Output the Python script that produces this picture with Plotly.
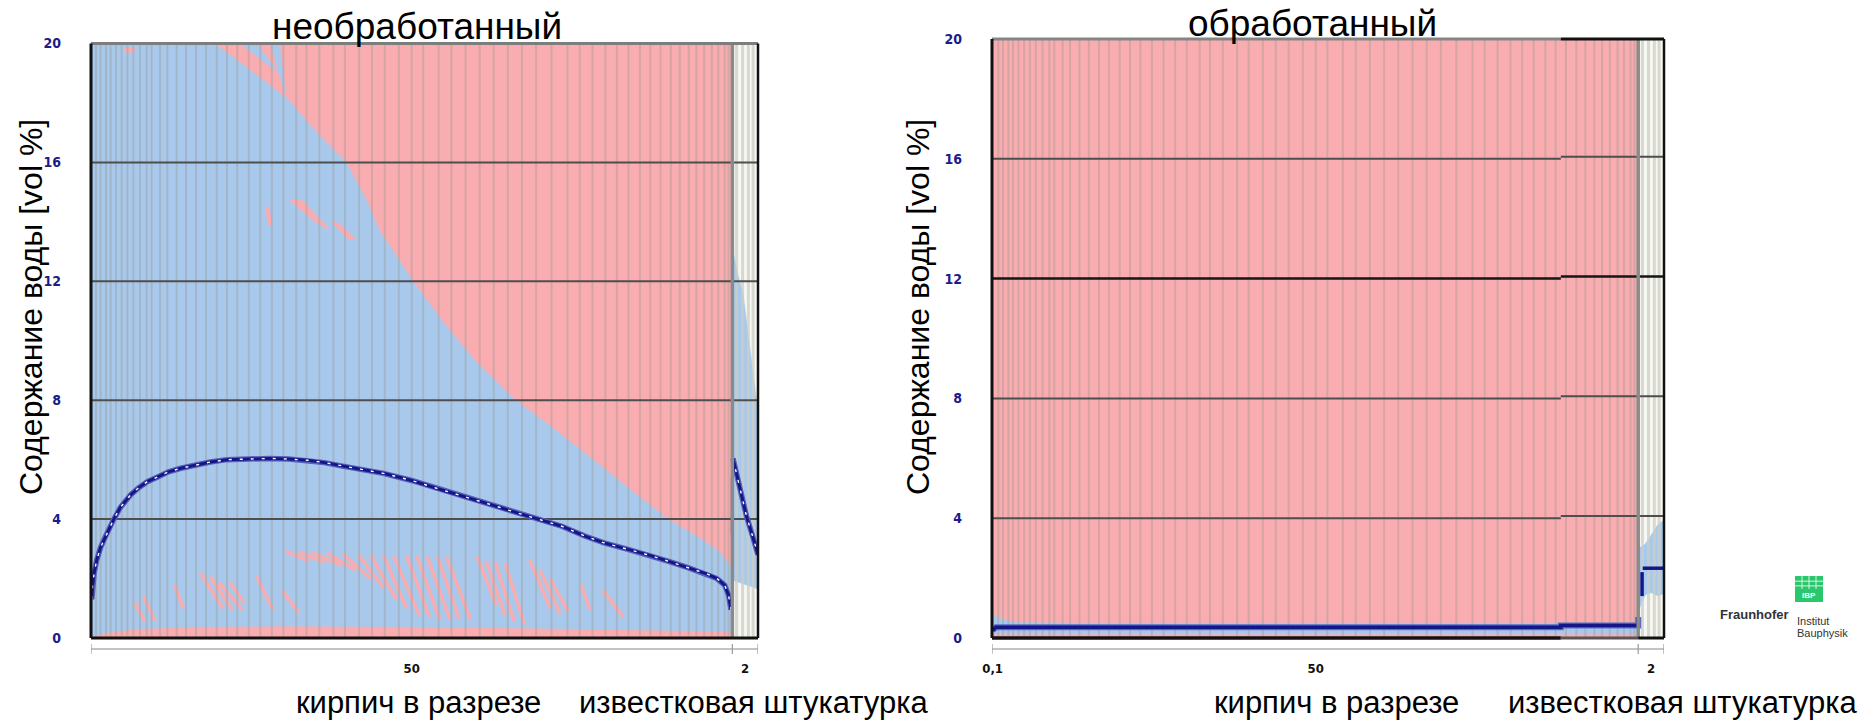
import plotly.graph_objects as go

FIG_W, FIG_H = 1876, 720

# ---------------- wall build-up, cm ----------------
brick_thk = 50.0
plaster_thk = 2.0
treated_thk = 0.1

tick_text_untreated = ["50", "2"]
tick_text_treated = ["0,1", "50", "2"]
y_tick_vals = [0, 4, 8, 12, 16, 20]
y_tick_text = ["0", "4", "8", "12", "16", "20"]
grid_levels = [4, 8, 12, 16]

# element boundaries of the numerical grid, cm from the inner face of the layer
brick_elements = [0.39, 0.75, 1.17, 1.53, 1.95, 2.39, 2.84, 3.3, 3.82, 4.34, 4.73,
                  5.38, 5.95, 6.68, 7.41, 8.19, 8.97, 9.8, 10.6, 11.4, 12.3, 13.2,
                  14.1, 15.0, 16.0, 16.8, 17.8, 18.9, 19.8, 20.9, 21.9, 22.9, 24.0,
                  25.0, 25.9, 27.1, 28.1, 29.2, 30.3, 31.4, 32.5, 33.6, 34.7, 35.9,
                  37.15, 38.1, 39.1, 40.1, 41.0, 41.9, 42.8, 43.6, 44.4, 45.2, 45.9,
                  46.6, 47.2, 47.8, 48.4, 48.9, 49.4, 49.7]
plaster_elements = [0.33, 0.8, 1.25, 1.62]

# ---------------- untreated wall (water content, vol %) ----------------
# envelope of all time steps in the brick
u_env_top_x = [0, 9.6, 11.5, 13.5, 15.4, 17.6, 19.9, 21.4, 22.5, 25.1, 27.5, 30.0,
               33.1, 35.9, 39.3, 42.3, 45.0, 47.5, 49.0, 50.0]
u_env_top_v = [20, 20, 19.4, 18.75, 18.1, 17.0, 16.0, 14.8, 13.7, 12.0, 10.6, 9.3,
               8.0, 7.1, 5.95, 4.9, 4.0, 3.35, 2.9, 2.35]
u_env_bot_x = [0, 0.3, 1.5, 3.4, 8, 15, 25, 35, 42, 50]
u_env_bot_v = [0, 0.08, 0.2, 0.3, 0.38, 0.4, 0.38, 0.33, 0.28, 0.22]
# envelope in the lime plaster
u_pl_top_x = [50.0, 50.44, 50.83, 51.09, 51.35, 51.66, 51.87, 52.0]
u_pl_top_v = [13.1, 12.2, 11.6, 10.7, 9.75, 8.8, 7.9, 7.6]
u_pl_bot_x = [50.0, 51.0, 52.0]
u_pl_bot_v = [1.95, 1.8, 1.65]

# strips never reached by the envelope
u_gaps = [
    ([15.4, 16.5, 18.6, 17.6], [14.75, 14.72, 13.75, 13.95]),
    ([18.7, 19.3, 20.7, 20.1], [14.0, 13.95, 13.4, 13.4]),
    ([13.6, 13.9, 14.1, 13.8], [14.5, 14.5, 13.9, 13.9]),
    ([2.6, 3.4, 3.3, 2.7], [19.85, 19.85, 19.7, 19.7]),
]
u_wet_strips = [
    ([11.6, 12.9, 14.7], [20, 20, 19.0]),
    ([14.0, 14.7, 15.2], [20, 20, 18.2]),
]
streak_x0 = [15.2, 16.2, 17.2, 18.4, 19.6, 20.8, 21.8, 22.8, 23.6, 24.6, 25.4, 26.2,
             27.0, 27.7, 30.1, 30.8, 31.5, 32.3, 34.2, 35.0, 35.8, 8.5, 9.3, 10.0,
             10.8, 3.4, 4.1, 12.9, 14.9, 38.2, 39.9, 6.5]
streak_v0 = [2.91, 2.9, 2.88, 2.86, 2.84, 2.82, 2.8, 2.78, 2.77, 2.76, 2.75, 2.74,
             2.74, 2.74, 2.74, 2.6, 2.55, 2.5, 2.63, 2.3, 2.0, 2.2, 2.07, 1.85,
             1.9, 1.2, 1.4, 2.07, 1.6, 1.8, 1.6, 1.8]
streak_x1 = [17.0, 18.2, 19.5, 20.6, 21.8, 22.8, 23.8, 24.6, 25.6, 26.4, 27.2, 28.0,
             28.7, 29.6, 31.6, 32.3, 33.0, 33.8, 35.8, 36.6, 37.2, 10.3, 11.0, 11.8,
             11.9, 4.2, 5.0, 14.2, 16.2, 38.9, 41.5, 7.2]
streak_v1 = [2.6, 2.55, 2.45, 2.3, 2.0, 1.7, 1.3, 1.0, 0.75, 0.7, 0.62, 0.62,
             0.65, 0.62, 1.1, 0.75, 0.55, 0.45, 1.0, 0.8, 0.9, 1.0, 0.95, 0.95,
             1.2, 0.55, 0.56, 0.95, 0.84, 0.95, 0.7, 1.0]

# current profile
u_line_x = [0.06, 0.12, 0.25, 0.45, 0.75, 1.12, 1.46, 1.77, 2.3, 3.08, 3.7, 4.39,
            5.2, 6.04, 7.0, 8.0, 9.3, 10.6, 12.2, 13.9, 15.4, 16.9, 18.2, 19.5,
            21.0, 22.8, 25.0, 27.0, 29.0, 31.3, 33.3, 35.3, 36.7, 38.5, 40.0, 41.8,
            43.5, 45.1, 46.6, 48.0, 48.8, 49.4, 49.7, 49.9]
u_line_v = [1.3, 1.75, 2.2, 2.63, 3.05, 3.41, 3.75, 3.99, 4.4, 4.81, 5.05, 5.26,
            5.42, 5.59, 5.71, 5.81, 5.92, 6.0, 6.03, 6.04, 6.02, 5.98, 5.9, 5.79,
            5.68, 5.54, 5.3, 5.03, 4.78, 4.47, 4.2, 3.95, 3.76, 3.43, 3.2, 2.99,
            2.79, 2.57, 2.36, 2.16, 2.0, 1.78, 1.45, 0.95]
u_pl_line_x = [50.05, 50.5, 51.1, 51.6, 52.0]
u_pl_line_v = [6.04, 5.2, 4.1, 3.4, 2.8]
u_edge_mark_x = [50.0, 50.0]
u_edge_mark_v = [3.5, 5.4]

# ---------------- treated wall (water content, vol %) ----------------
t_env_x = [0, 0.3, 1.0, 2.0, 6.0, 50.1]
t_env_top_v = [0.8, 0.72, 0.6, 0.52, 0.5, 0.5]
t_env_bot_x = [0, 50.1]
t_env_bot_v = [0.13, 0.13]
t_pl_x = [50.15, 50.65, 51.1, 51.6, 52.1]
t_pl_top_v = [3.0, 3.14, 3.43, 3.77, 3.94]
t_pl_bot_v = [0.94, 1.44, 1.51, 1.41, 1.48]
t_line_x = [0.05, 0.3, 44.1, 44.1, 50.1, 50.1]
t_line_v = [0.25, 0.36, 0.36, 0.42, 0.42, 0.7]
t_pl_line_x = [50.4, 50.4, None, 50.45, 52.1]
t_pl_line_v = [1.4, 2.2, None, 2.33, 2.33]
t_seam = 44.1          # frame seam: grid drawn 0.07 higher beyond it
t_seam_shift = 0.07

# ---------------- styling ----------------
PINK = "#F9ADB0"
BLUE = "#A9C9EC"
NAVY = "#15158A"
GRIDC = "#4e4e4e"
ELEM = "rgba(150,150,140,0.36)"
PLAST = "rgba(205,205,195,0.75)"
TEXT_FONT = "Liberation Sans, Arial, sans-serif"
TICK_FONT = "Liberation Sans Narrow, DejaVu Sans Condensed, Arial Narrow, sans-serif"

L_DOM_X = [91 / FIG_W, 758 / FIG_W]
L_DOM_Y = [1 - 638 / FIG_H, 1 - 43.5 / FIG_H]
R_DOM_X = [992 / FIG_W, 1664 / FIG_W]
R_DOM_Y = [1 - 638 / FIG_H, 1 - 39 / FIG_H]

fig = go.Figure()


def add(xs, ys, xa, ya, **kw):
    fig.add_trace(go.Scatter(x=xs, y=ys, xaxis=xa, yaxis=ya, hoverinfo="skip",
                             showlegend=False, **kw))


def poly(xs, ys, color, xa, ya):
    add(list(xs) + [xs[0]], list(ys) + [ys[0]], xa, ya, mode="lines",
        fill="toself", fillcolor=color, line=dict(width=0.5, color=color))


def verticals(xs, y0, y1):
    px, py = [], []
    for x in xs:
        px += [x, x, None]
        py += [y0, y1, None]
    return px, py


def draw_envelopes(xa, ya, env_top_x, env_top_v, env_bot_x, env_bot_v,
                   pl_top_x, pl_top_v, pl_bot_x, pl_bot_v):
    poly(env_top_x + env_bot_x[::-1], env_top_v + env_bot_v[::-1], BLUE, xa, ya)
    poly(pl_top_x + pl_bot_x[::-1], pl_top_v + pl_bot_v[::-1], BLUE, xa, ya)


# ---- untreated wall ----
draw_envelopes("x", "y", u_env_top_x, u_env_top_v, u_env_bot_x, u_env_bot_v,
               u_pl_top_x, u_pl_top_v, u_pl_bot_x, u_pl_bot_v)
for gx, gv in u_gaps:
    poly(gx, gv, PINK, "x", "y")
for gx, gv in u_wet_strips:
    poly(gx, gv, BLUE, "x", "y")
sx, sv = [], []
for a, b, c, d in zip(streak_x0, streak_v0, streak_x1, streak_v1):
    sx += [a, c, None]
    sv += [b, d, None]
add(sx, sv, "x", "y", mode="lines", line=dict(color=PINK, width=3.5))

ex, ey = verticals(brick_elements, 0, 20)
add(ex, ey, "x", "y", mode="lines", line=dict(color=ELEM, width=2))
ex, ey = verticals([brick_thk + p for p in plaster_elements], 0, 20)
add(ex, ey, "x", "y", mode="lines", line=dict(color=PLAST, width=3))

gx, gy = [], []
for g in grid_levels:
    gx += [0, brick_thk + plaster_thk, None]
    gy += [g, g, None]
add(gx, gy, "x", "y", mode="lines", line=dict(color=GRIDC, width=2))

for xs, vs in [(u_line_x, u_line_v), (u_pl_line_x, u_pl_line_v)]:
    add(xs, vs, "x", "y", mode="lines", line=dict(color="#5560b8", width=5.5))
    add(xs, vs, "x", "y", mode="lines", line=dict(color=NAVY, width=3))
    add(xs, vs, "x", "y", mode="lines",
        line=dict(color="white", width=1.4, dash="3px,8px"))
add(u_edge_mark_x, u_edge_mark_v, "x", "y", mode="lines", line=dict(color=NAVY, width=3))

# ---- treated wall ----
t_total = treated_thk + brick_thk + plaster_thk
draw_envelopes("x2", "y2", t_env_x, t_env_top_v, t_env_bot_x, t_env_bot_v,
               t_pl_x, t_pl_top_v, t_pl_x, t_pl_bot_v)
ex, ey = verticals([treated_thk + g for g in brick_elements], 0, 20)
add(ex, ey, "x2", "y2", mode="lines", line=dict(color=ELEM, width=2))
ex, ey = verticals([treated_thk + brick_thk + p for p in plaster_elements], 0, 20)
add(ex, ey, "x2", "y2", mode="lines", line=dict(color=PLAST, width=3))

gx, gy, bx, by = [], [], [], []
for g in grid_levels:
    tx = [0, t_seam, None, t_seam, t_total, None]
    ty = [g, g, None, g + t_seam_shift, g + t_seam_shift, None]
    if g == 12:
        bx += tx
        by += ty
    else:
        gx += tx
        gy += ty
add(gx, gy, "x2", "y2", mode="lines", line=dict(color=GRIDC, width=2))
add(bx, by, "x2", "y2", mode="lines", line=dict(color="#151515", width=2.5))

add(t_line_x, t_line_v, "x2", "y2", mode="lines", line=dict(color="#5a6cc0", width=6))
add(t_line_x, t_line_v, "x2", "y2", mode="lines", line=dict(color=NAVY, width=3.5))
add(t_pl_line_x, t_pl_line_v, "x2", "y2", mode="lines", line=dict(color=NAVY, width=3.5))

# ---------------- shapes: layer fills, separators, frames ----------------
shapes = []
for xa, ya, x0 in [("x", "y", 0), ("x2", "y2", treated_thk)]:
    x_end = x0 + brick_thk + plaster_thk
    shapes.append(dict(type="rect", xref=xa, yref=ya, x0=0, x1=x0 + brick_thk, y0=0, y1=20,
                       fillcolor=PINK, line=dict(width=0), layer="below"))
    shapes.append(dict(type="rect", xref=xa, yref=ya, x0=x0 + brick_thk, x1=x_end, y0=0,
                       y1=20, fillcolor="#f7f7f3", line=dict(width=0), layer="below"))
    shapes.append(dict(type="line", xref=xa, yref=ya, x0=x0 + brick_thk, x1=x0 + brick_thk,
                       y0=0, y1=20, line=dict(color="#8a8a8a", width=3.5)))


def frame(xa, dom_x, dom_y, top_segments, bottom_segments):
    for xs0, xs1, col, w in top_segments:
        shapes.append(dict(type="line", xref=xa, yref="paper", x0=xs0, x1=xs1,
                           y0=dom_y[1], y1=dom_y[1], line=dict(color=col, width=w)))
    for xs0, xs1, col, w in bottom_segments:
        shapes.append(dict(type="line", xref=xa, yref="paper", x0=xs0, x1=xs1,
                           y0=dom_y[0], y1=dom_y[0], line=dict(color=col, width=w)))
    shapes.append(dict(type="line", xref="paper", yref="paper", x0=dom_x[0], x1=dom_x[0],
                       y0=dom_y[0], y1=dom_y[1], line=dict(color="#111", width=3)))
    shapes.append(dict(type="line", xref="paper", yref="paper", x0=dom_x[1], x1=dom_x[1],
                       y0=dom_y[0], y1=dom_y[1], line=dict(color="#111", width=2.5)))


L_END = brick_thk + plaster_thk
frame("x", L_DOM_X, L_DOM_Y, [(0, L_END, "#7d7d7d", 3)], [(0, L_END, "#111", 3)])
frame("x2", R_DOM_X, R_DOM_Y,
      [(0, t_seam, "#858585", 3), (t_seam, t_total, "#111", 3)],
      [(0, t_seam, "#111", 3.5), (t_seam, treated_thk + brick_thk, "#555", 3),
       (treated_thk + brick_thk, t_total, "#111", 3)])

# dimension line under each wall
dim_y = 1 - 649 / FIG_H
for xa, bounds in [("x", [0, brick_thk, L_END]),
                   ("x2", [0, treated_thk + brick_thk, t_total])]:
    shapes.append(dict(type="line", xref=xa, yref="paper", x0=bounds[0], x1=bounds[-1],
                       y0=dim_y, y1=dim_y, line=dict(color="#b0b0b0", width=1.5)))
    for b in bounds:
        shapes.append(dict(type="line", xref=xa, yref="paper", x0=b, x1=b,
                           y0=dim_y - 5 / FIG_H, y1=dim_y + 5 / FIG_H,
                           line=dict(color="#9a9a9a", width=1.2)))

# Fraunhofer IBP mark
lx0, lx1, ly0, ly1 = 1795 / FIG_W, 1823 / FIG_W, 1 - 602 / FIG_H, 1 - 576 / FIG_H
shapes.append(dict(type="rect", xref="paper", yref="paper", x0=lx0, x1=lx1, y0=ly0, y1=ly1,
                   fillcolor="#2ac86c", line=dict(width=0)))
for fx in [0.25, 0.5, 0.75]:
    xx = lx0 + (lx1 - lx0) * fx
    shapes.append(dict(type="line", xref="paper", yref="paper", x0=xx, x1=xx,
                       y0=ly0 + (ly1 - ly0) * 0.5, y1=ly1, line=dict(color="white", width=0.8)))
for fy in [0.62, 0.8]:
    yy = ly0 + (ly1 - ly0) * fy
    shapes.append(dict(type="line", xref="paper", yref="paper", x0=lx0, x1=lx1,
                       y0=yy, y1=yy, line=dict(color="white", width=0.8)))

fig.update_layout(shapes=shapes)

# ---------------- text ----------------
def ann(text, px, py, size, **kw):
    d = dict(text=text, x=px / FIG_W, y=1 - py / FIG_H, xref="paper", yref="paper",
             showarrow=False, font=dict(family=TEXT_FONT, size=size, color="#000"),
             xanchor="center", yanchor="middle")
    d.update(kw)
    return d


annotations = [
    ann("необработанный", 417, 27, 37),
    ann("обработанный", 1312, 24, 37),
    ann("кирпич в разрезе", 418, 702, 31),
    ann("известковая штукатурка", 753, 702, 31),
    ann("кирпич в разрезе", 1336, 702, 31),
    ann("известковая штукатурка", 1682, 702, 31),
    ann("Содержание воды [vol %]", 31, 307, 32, textangle=-90),
    ann("Содержание воды [vol %]", 918, 307, 32, textangle=-90),
    ann("IBP", 1809, 595, 8, font=dict(family=TEXT_FONT, size=8, color="white",
                                       weight="bold")),
    ann("Fraunhofer", 1791, 614, 13, xanchor="right",
        font=dict(family=TEXT_FONT, size=13, color="#333", weight="bold")),
    ann("Institut", 1795, 621, 11, xanchor="left",
        font=dict(family=TEXT_FONT, size=11, color="#333")),
    ann("Bauphysik", 1795, 633, 11, xanchor="left",
        font=dict(family=TEXT_FONT, size=11, color="#333")),
]

x_tick_font = dict(family=TICK_FONT, size=13, color="#111", weight="bold")
y_tick_font = dict(family=TICK_FONT, size=14, color="#1b1b8a", weight="bold")
common_x = dict(showgrid=False, zeroline=False, showline=False, ticks="",
                tickfont=x_tick_font, ticklabelstandoff=21, fixedrange=True,
                automargin=False)
common_y = dict(range=[0, 20], showgrid=False, zeroline=False, showline=False, ticks="",
                tickvals=y_tick_vals, ticktext=y_tick_text, tickfont=y_tick_font,
                ticklabelstandoff=29, fixedrange=True, automargin=False)

fig.update_layout(
    width=FIG_W, height=FIG_H,
    margin=dict(l=0, r=0, t=0, b=0),
    paper_bgcolor="white", plot_bgcolor="white",
    showlegend=False,
    annotations=annotations,
    xaxis=dict(domain=L_DOM_X, range=[0, L_END], anchor="y",
               tickvals=[brick_thk / 2, brick_thk + plaster_thk / 2],
               ticktext=tick_text_untreated, **common_x),
    yaxis=dict(domain=L_DOM_Y, anchor="x", **common_y),
    xaxis2=dict(domain=R_DOM_X, range=[0, t_total], anchor="y2",
                tickvals=[treated_thk / 2, treated_thk + brick_thk / 2,
                          treated_thk + brick_thk + plaster_thk / 2],
                ticktext=tick_text_treated, **common_x),
    yaxis2=dict(domain=R_DOM_Y, anchor="x2", **common_y),
)

# page without the default body margin, so the figure fills the window exactly
fig.write_html("out.html",
               post_script="document.body.style.margin='0';"
                           "document.body.style.overflow='hidden';")
